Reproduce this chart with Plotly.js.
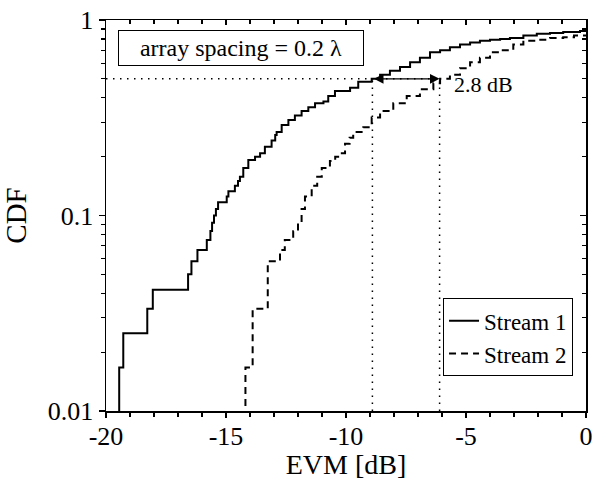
<!DOCTYPE html>
<html>
<head>
<meta charset="utf-8">
<script src="https://cdn.plot.ly/plotly-3.0.1.min.js"></script>
<style>html,body{margin:0;padding:0;background:#fff;}#chart{width:593px;height:480px;}</style>
</head>
<body>
<div id="chart"></div>
<script>
const stream1X = [-19.45,-19.45,-19.28,-18.28,-18.05,-16.58,-16.44,-16.19,-15.80,-15.65,-15.58,-15.50,-15.42,-15.33,-14.97,-14.90,-14.63,-14.50,-14.42,-14.28,-14.07,-13.79,-13.58,-13.38,-13.10,-12.95,-12.89,-12.68,-12.40,-12.13,-11.85,-11.57,-11.29,-10.94,-10.74,-10.46,-9.83,-9.49,-8.93,-8.58,-8.17,-7.75,-7.33,-6.92,-6.50,-6.08,-5.67,-5.25,-4.83,-4.42,-4.00,-3.58,-3.17,-2.61,-2.05,-1.50,-0.95,-0.25,0];
const stream1Y = [0.008,0.0167,0.025,0.0333,0.0417,0.05,0.0583,0.0667,0.075,0.0833,0.0917,0.1,0.108,0.117,0.125,0.133,0.142,0.15,0.158,0.175,0.192,0.2,0.208,0.225,0.242,0.258,0.267,0.29,0.308,0.325,0.342,0.358,0.375,0.383,0.408,0.433,0.45,0.483,0.5,0.525,0.55,0.575,0.608,0.642,0.683,0.7,0.725,0.75,0.767,0.783,0.792,0.8,0.808,0.833,0.85,0.858,0.867,0.878,0.878];
const stream2X = [-14.19,-14.19,-13.89,-13.26,-12.75,-12.55,-12.20,-12.00,-11.85,-11.71,-11.43,-11.20,-11.01,-10.67,-10.45,-10.25,-10.04,-9.85,-9.70,-9.28,-8.93,-8.58,-8.03,-7.47,-6.92,-6.36,-6.08,-5.67,-5.25,-4.83,-4.42,-4.00,-3.58,-3.03,-2.61,-2.05,-1.50,-0.95,-0.50,0];
const stream2Y = [0.008,0.0167,0.0333,0.0583,0.0667,0.075,0.083,0.092,0.108,0.125,0.142,0.158,0.175,0.19,0.2,0.208,0.233,0.25,0.267,0.283,0.317,0.342,0.375,0.408,0.442,0.475,0.5,0.525,0.567,0.608,0.642,0.683,0.7,0.75,0.783,0.792,0.808,0.817,0.833,0.833];
const seriesNames = ["Stream 1", "Stream 2"];
const markX = [-8.9, -6.1];      // EVM at CDF = 0.5 for each stream
const markLevel = 0.5;
const xTickVals = [-20, -15, -10, -5, 0];
const xTickText = ["-20", "-15", "-10", "-5", "0"];
const yTickVals = [0.01, 0.1, 1];
const yTickText = ["0.01", "0.1", "1"];
const yMinorVals = [0.02,0.03,0.04,0.05,0.06,0.07,0.08,0.09,0.2,0.3,0.4,0.5,0.6,0.7,0.8,0.9];
const xRange = [-20, 0];
const yRange = [0.01, 1];
const boxLabel = "array spacing = 0.2 \u03bb";

const FONT = "Liberation Serif, Times New Roman, serif";

const traces = [
  {x: stream1X, y: stream1Y, name: seriesNames[0], mode: "lines",
   line: {color: "#000", width: 2, shape: "hv"}},
  {x: stream2X, y: stream2Y, name: seriesNames[1], mode: "lines",
   line: {color: "#000", width: 2, shape: "hv", dash: "7px,5px"}},
  {x: [xRange[0], markX[1]], y: [markLevel, markLevel], mode: "lines", showlegend: false,
   line: {color: "#000", width: 1.5, dash: "1.5px,5.5px"}, xaxis: "x2", yaxis: "y2", hoverinfo: "skip"},
  {x: [markX[0], markX[0], null, markX[1], markX[1]], y: [yRange[0], markLevel, null, yRange[0], markLevel],
   mode: "lines", showlegend: false,
   line: {color: "#000", width: 1.5, dash: "1.5px,5.5px"}, xaxis: "x2", yaxis: "y2", hoverinfo: "skip"}
];

const logR = [Math.log10(yRange[0]), Math.log10(yRange[1])];
const axFont = {family: FONT, size: 26, color: "#000"};

const layout = {
  width: 593, height: 480,
  margin: {l: 106, r: 7, t: 20, b: 69},
  paper_bgcolor: "#fff", plot_bgcolor: "#fff",
  font: {family: FONT, color: "#000"},
  showlegend: true,
  legend: {x: 0.973, y: 0.089, xanchor: "right", yanchor: "bottom",
           bgcolor: "#fff", bordercolor: "#000", borderwidth: 1,
           font: {family: FONT, size: 23, color: "#000"}, tracegroupgap: 0},
  xaxis: {range: xRange, showgrid: false, zeroline: false, showline: true, linecolor: "#000", linewidth: 1.5,
          tickmode: "array", tickvals: xTickVals, ticktext: xTickText, ticks: "outside", ticklen: 5, tickwidth: 1.2, tickcolor: "#000",
          ticklabelstandoff: -4,
          minor: {dtick: 1, ticks: "outside", ticklen: 4, tickwidth: 1.2, tickcolor: "#000"},
          tickfont: axFont, title: {text: "EVM [dB]", font: {family: FONT, size: 28, color: "#000"}, standoff: 0}},
  yaxis: {type: "log", range: logR, showgrid: false, zeroline: false, showline: true, linecolor: "#000", linewidth: 1.5,
          tickmode: "array", tickvals: yTickVals, ticktext: yTickText, ticks: "outside", ticklen: 6, tickwidth: 1.2, tickcolor: "#000",
          minor: {tickmode: "array", tickvals: yMinorVals, ticks: "outside", ticklen: 4, tickwidth: 1.2, tickcolor: "#000"},
          tickfont: axFont, title: {text: "CDF", font: {family: FONT, size: 29, color: "#000"}, standoff: 12}},
  xaxis2: {overlaying: "x", side: "top", anchor: "y2", range: xRange, showgrid: false, zeroline: false, showline: true,
           linecolor: "#000", linewidth: 1.5, tickmode: "array", tickvals: xTickVals, ticks: "inside", ticklen: 5, tickwidth: 1.2,
           tickcolor: "#000", showticklabels: false,
           minor: {dtick: 1, ticks: "inside", ticklen: 4, tickwidth: 1.2, tickcolor: "#000"}},
  yaxis2: {overlaying: "y", side: "right", anchor: "x2", type: "log", range: logR, showgrid: false, zeroline: false, showline: true,
           linecolor: "#000", linewidth: 1.5, tickmode: "array", tickvals: yTickVals, ticks: "inside", ticklen: 6, tickwidth: 1.2,
           tickcolor: "#000", showticklabels: false,
           minor: {tickmode: "array", tickvals: yMinorVals, ticks: "inside", ticklen: 4, tickwidth: 1.2, tickcolor: "#000"}},
  annotations: [
    {xref: "x", yref: "y", axref: "x", ayref: "y",
     x: markX[1], y: Math.log10(markLevel), ax: markX[0], ay: Math.log10(markLevel),
     text: "", showarrow: true, arrowside: "end+start", arrowhead: 2, startarrowhead: 2,
     arrowsize: 1.6, startarrowsize: 1.6, arrowwidth: 1.2, arrowcolor: "#000",
     standoff: 0, startstandoff: 0},
    {xref: "x", yref: "y", x: markX[1] + 0.5, y: Math.log10(markLevel) - 0.03, xanchor: "left", yanchor: "middle",
     text: (markX[1] - markX[0]).toFixed(1) + " dB", showarrow: false,
     font: {family: FONT, size: 22, color: "#000"}},
    {xref: "paper", yref: "paper", x: 0.282, y: 0.928, xanchor: "center", yanchor: "middle",
     text: boxLabel, showarrow: false, width: 240, height: 30, borderpad: 2,
     bordercolor: "#000", borderwidth: 1, bgcolor: "#fff",
     font: {family: FONT, size: 24, color: "#000"}}
  ]
};

Plotly.newPlot("chart", traces, layout, {staticPlot: true, displayModeBar: false});
</script>
</body>
</html>
